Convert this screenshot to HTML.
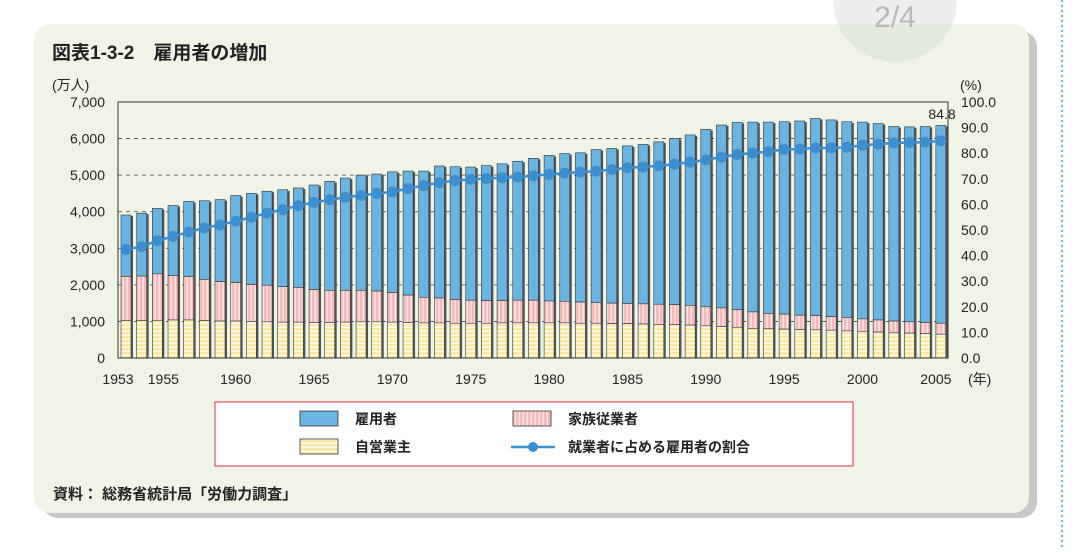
<!DOCTYPE html><html><head><meta charset="utf-8"><style>
body{margin:0;background:#fff;width:1078px;height:547px;overflow:hidden;font-family:"Liberation Sans","Noto Sans CJK JP",sans-serif;}
</style></head><body>
<svg id="s" width="1078" height="547" xmlns="http://www.w3.org/2000/svg" font-family="Liberation Sans, Noto Sans CJK JP, sans-serif">
<defs>
<pattern id="py" width="4" height="4" patternUnits="userSpaceOnUse"><rect width="4" height="4" fill="#fbe7a6"/><rect y="2.5" width="4" height="1.5" fill="#fffbe8"/></pattern>
<pattern id="pp" width="4" height="4" patternUnits="userSpaceOnUse"><rect width="4" height="4" fill="#f5b9b9"/><rect x="2.5" width="1.5" height="4" fill="#fde3e3"/></pattern>
</defs>
<line x1="1062" y1="0" x2="1062" y2="547" stroke="#6bb8d8" stroke-width="2" stroke-dasharray="2,3"/>
<rect x="42" y="31" width="995" height="487" rx="16" fill="#c8c8c8"/>
<rect x="34" y="24" width="995" height="489" rx="16" fill="#eff4e6"/>
<circle cx="895" cy="0" r="62" fill="#d8dcd4" opacity="0.45"/>
<text x="895" y="27" font-size="30" fill="#b8b8b8" text-anchor="middle">2/4</text>
<text x="52" y="59" font-size="19" font-weight="bold" fill="#222">図表1-3-2　雇用者の増加</text>
<text x="52" y="90" font-size="14" fill="#222">(万人)</text>
<text x="960" y="90" font-size="14" fill="#222">(%)</text>
<text x="53" y="499" font-size="15" font-weight="bold" fill="#222">資料：  総務省統計局「労働力調査」</text>
<g id="g"></g>
<rect x="215" y="402" width="638" height="64" fill="#fff" stroke="#d0304a" stroke-width="1"/>
<rect x="300" y="411" width="38" height="15" fill="#6ab4e2" stroke="#333" stroke-width="0.8"/>
<text x="355" y="424" font-size="14" font-weight="bold" fill="#222">雇用者</text>
<rect x="513" y="411" width="38" height="15" fill="url(#pp)" stroke="#333" stroke-width="0.8"/>
<text x="568" y="424" font-size="14" font-weight="bold" fill="#222">家族従業者</text>
<rect x="300" y="439" width="38" height="15" fill="url(#py)" stroke="#333" stroke-width="0.8"/>
<text x="355" y="452" font-size="14" font-weight="bold" fill="#222">自営業主</text>
<line x1="511" y1="447" x2="555" y2="447" stroke="#3b8fd0" stroke-width="2.5"/><circle cx="533" cy="447" r="5" fill="#3b8fd0"/>
<text x="568" y="452" font-size="14" font-weight="bold" fill="#222">就業者に占める雇用者の割合</text>
</svg>
<script>
var g=document.getElementById('g'),h='';
var X0=118,X1=948,YT=102,YB=358,sc=(YB-YT)/7000;
function Y(v){return YB-v*sc}
for(var i=1;i<=6;i++){h+='<line x1="'+X0+'" x2="'+X1+'" y1="'+Y(i*1000)+'" y2="'+Y(i*1000)+'" stroke="#444" stroke-dasharray="4,4" stroke-width="0.8"/>';}
for(var i=0;i<=7;i++){h+='<text x="105" y="'+(Y(i*1000)+5)+'" font-size="14" text-anchor="end" fill="#222">'+(i?i+',000':'0')+'</text>';}
for(var k=0;k<=10;k++){h+='<text x="961" y="'+(YB-k*25.6+5)+'" font-size="14" fill="#222">'+(k*10).toFixed(1)+'</text>';}
var tot=[3910,3960,4090,4170,4280,4300,4330,4440,4500,4560,4600,4650,4730,4830,4920,5000,5030,5090,5110,5110,5250,5230,5220,5260,5310,5380,5460,5540,5590,5610,5700,5730,5800,5840,5910,6000,6100,6250,6370,6440,6450,6450,6460,6480,6550,6510,6460,6450,6410,6330,6320,6330,6360];
var fam=[2230,2240,2300,2250,2230,2150,2090,2060,2010,1990,1950,1930,1870,1850,1850,1850,1830,1790,1720,1660,1640,1600,1580,1570,1570,1580,1580,1560,1550,1530,1520,1500,1490,1480,1470,1460,1440,1400,1370,1320,1260,1220,1200,1170,1160,1130,1110,1070,1040,1010,990,970,950];
var slf=[1020,1020,1030,1040,1040,1020,1010,1010,1000,990,980,980,970,970,980,990,990,980,970,960,960,950,950,950,960,960,960,960,960,950,950,940,940,930,920,910,900,880,860,840,810,800,790,780,770,760,740,730,710,690,680,670,650];
var pct=[42.4,43.5,45.8,47.5,49.2,50.8,52.0,53.4,55.0,56.6,58.0,59.5,60.8,61.8,62.8,63.5,64.3,64.9,66.2,67.4,68.5,69.3,69.8,70.1,70.4,70.7,71.2,71.7,72.2,72.6,73.0,73.6,74.3,74.6,75.1,75.7,76.5,77.4,78.5,79.5,80.1,80.6,81.5,81.6,82.1,82.1,82.3,83.1,83.5,84.0,84.2,84.3,84.8];
var pts=[];
for(var i=0;i<53;i++){var cx=126+i*15.67,w=10,x=cx-w/2;
h+='<rect x="'+(x+2)+'" y="'+(Y(tot[i])+1)+'" width="'+w+'" height="'+(YB-Y(tot[i])-1)+'" fill="#555"/>';
h+='<rect x="'+x+'" y="'+Y(tot[i])+'" width="'+w+'" height="'+(Y(fam[i])-Y(tot[i]))+'" fill="#6ab4e2" stroke="#333" stroke-width="0.6"/>';
h+='<rect x="'+x+'" y="'+Y(fam[i])+'" width="'+w+'" height="'+(Y(slf[i])-Y(fam[i]))+'" fill="url(#pp)" stroke="#333" stroke-width="0.6"/>';
h+='<rect x="'+x+'" y="'+Y(slf[i])+'" width="'+w+'" height="'+(YB-Y(slf[i]))+'" fill="url(#py)" stroke="#333" stroke-width="0.6"/>';
pts.push(cx+','+(YB-pct[i]*2.56));}
h+='<polyline points="'+pts.join(' ')+'" fill="none" stroke="#3b8fd0" stroke-width="2.5"/>';
pts.forEach(function(p){var a=p.split(',');h+='<circle cx="'+a[0]+'" cy="'+a[1]+'" r="5.5" fill="#3b8fd0"/>';});
h+='<rect x="'+X0+'" y="'+YT+'" width="'+(X1-X0)+'" height="'+(YB-YT)+'" fill="none" stroke="#333" stroke-width="1"/>';
var yrs={1953:0,1955:2,1960:7,1965:12,1970:17,1975:22,1980:27,1985:32,1990:37,1995:42,2000:47,2005:52};
for(var y in yrs){var cx=126+yrs[y]*15.67;h+='<text x="'+(y==1953?cx-8:y==1955?cx+6:y==2005?cx-5:cx)+'" y="384" font-size="14" text-anchor="middle" fill="#222">'+y+'</text>';}
h+='<text x="968" y="384" font-size="14" fill="#222">(年)</text>';
h+='<text x="942" y="119" font-size="14" text-anchor="middle" fill="#222">84.8</text>';
g.innerHTML=h;
</script>
</body></html>
